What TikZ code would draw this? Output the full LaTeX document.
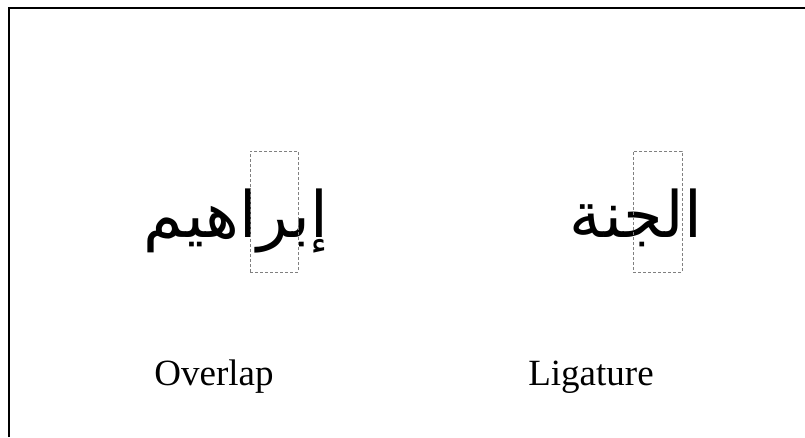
\documentclass[tikz,border=0pt]{standalone}
\usepackage{fontspec}
\setmainfont{Liberation Serif}
\newfontfamily\arabicfont[Script=Arabic]{DejaVu Sans}
\TeXXeTstate=1
\begin{document}
\begin{tikzpicture}[x=1pt,y=-1pt,
    glyphbox/.style={draw=gray,densely dashed,line width=0.8pt,inner sep=0pt},
    arword/.style={anchor=base,inner sep=0pt,font=\arabicfont\fontsize{64}{70}\selectfont},
    caption/.style={anchor=base,inner sep=0pt,font=\fontsize{37}{40}\selectfont}]
    \useasboundingbox (0,0) rectangle (805,437);
    \draw[line width=2.2pt] (9,437) -- (9,8) -- (805,8);
    \node[arword] (overlapword) at (236,237) {\beginR إبراهيم\endR};
    \node[arword] (ligword) at (636,237) {\beginR الجنة\endR};
    \node[glyphbox,minimum width=48,minimum height=121] (overlapbox) at (274,211.5) {};
    \node[glyphbox,minimum width=49,minimum height=121] (ligbox) at (657.5,211.5) {};
    \node[caption] (overlaplbl) at (214,385) {Overlap};
    \node[caption] (liglbl) at (591,385) {Ligature};
  \end{tikzpicture}
\end{document}
